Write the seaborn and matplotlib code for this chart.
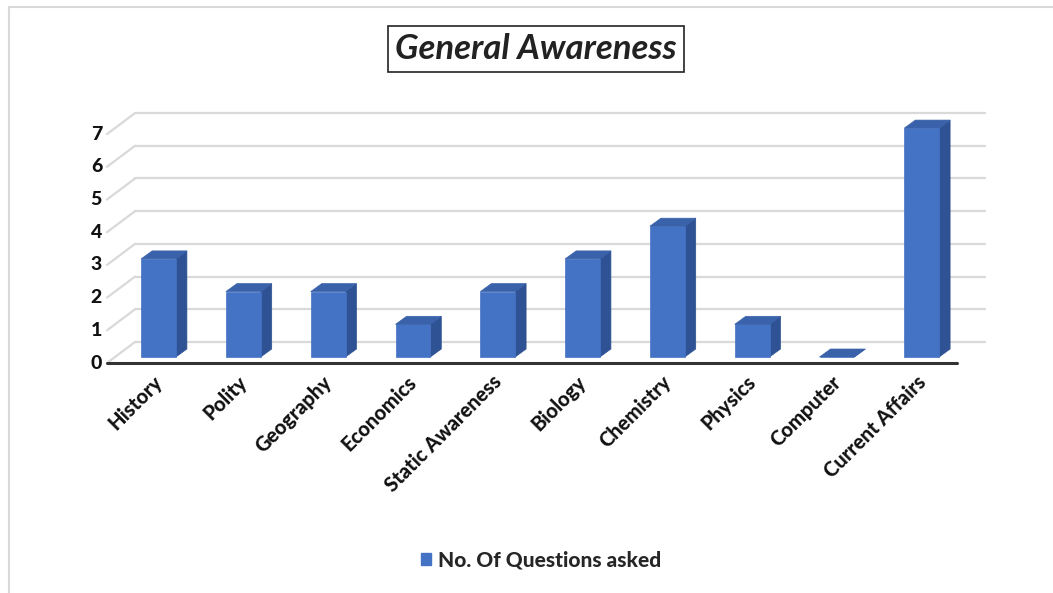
import matplotlib
matplotlib.use("Agg")
import matplotlib.pyplot as plt
import seaborn as sns
from matplotlib.patches import Polygon, Patch, Rectangle
from matplotlib.transforms import IdentityTransform

# data
subjects = ["History", "Polity", "Geography", "Economics", "Static Awareness",
            "Biology", "Chemistry", "Physics", "Computer", "Current Affairs"]
questions = [3, 2, 2, 1, 2, 3, 4, 1, 0, 7]
y_ticks = [0, 1, 2, 3, 4, 5, 6, 7]

FRONT_COL = "#4472C4"
SIDE_COL = "#2E5293"
TOP_COL = "#3A62AA"
GRID_COL = "#D9D9D9"
FONT = ["Lato", "DejaVu Sans"]

sns.set_theme(style="white")
plt.rcParams["font.family"] = FONT

fig = plt.figure(figsize=(10.53, 5.93), dpi=100)
ax = fig.add_axes([100 / 1053, 213 / 593, 900 / 1053, 280 / 593])

sns.barplot(x=subjects, y=questions, color=FRONT_COL, saturation=1,
            width=0.41, ax=ax, zorder=3, edgecolor=FRONT_COL, linewidth=0.5)
ax.set_xlim(-0.690, 9.923)
ax.set_ylim(-0.703, 7.859)
ax.set_axis_off()

IDT = IdentityTransform()
front_off = (-8, -6)
back_off = (20, 15)
depth = (11, 8)
xl, xr = -0.513, 9.51


def px(x, y, off=(0, 0)):
    X, Y = ax.transData.transform((x, y))
    return (X + off[0], Y + off[1])


# back wall gridlines and left wall diagonals
for k in y_ticks:
    a = px(xl, k, back_off)
    b = px(xr, k, back_off)
    ax.plot([a[0], b[0]], [a[1], b[1]], color=GRID_COL, lw=1.6,
            transform=IDT, clip_on=False, zorder=0.5)
    c = px(xl, k, front_off)
    ax.plot([c[0], a[0]], [c[1], a[1]], color=GRID_COL, lw=1.6,
            transform=IDT, clip_on=False, zorder=0.5)
    ax.text(c[0] - 5, c[1], str(k), ha="right", va="center", fontsize=14,
            fontweight="black", transform=IDT, color="#111111")

# front floor edge
a = px(xl, 0, front_off)
b = px(xr, 0, front_off)
ax.plot([a[0], b[0]], [a[1], b[1]], color="#333333", lw=2.2,
        transform=IDT, clip_on=False, zorder=4)

# 3d sides and tops for each bar
for p in ax.patches:
    x0 = p.get_x()
    w = p.get_width()
    h = p.get_height()
    side = [px(x0 + w, 0), px(x0 + w, h), px(x0 + w, h, depth), px(x0 + w, 0, depth)]
    top = [px(x0, h), px(x0 + w, h), px(x0 + w, h, depth), px(x0, h, depth)]
    ax.add_patch(Polygon(side, closed=True, facecolor=SIDE_COL, edgecolor=SIDE_COL,
                         lw=0.5, transform=IDT, clip_on=False, zorder=2.5))
    ax.add_patch(Polygon(top, closed=True, facecolor=TOP_COL, edgecolor=TOP_COL,
                         lw=0.5, transform=IDT, clip_on=False, zorder=3.5))

# category labels
for i, name in enumerate(subjects):
    X, Y = px(i, 0, front_off)
    ax.text(X + 2, Y - 9, name, rotation=45, ha="right", va="top",
            rotation_mode="anchor", fontsize=14.5, fontweight="black",
            transform=IDT, color="#111111")

# title
fig.text(536 / 1053, 1 - 49 / 593, "General Awareness", ha="center", va="center",
         fontsize=25, fontweight="bold", fontstyle="italic", color="#222222",
         bbox=dict(boxstyle="square,pad=0.2", facecolor="white", edgecolor="#222222", lw=1.2))

# legend
fig.legend(handles=[Patch(facecolor=FRONT_COL, edgecolor=FRONT_COL)],
           labels=["No. Of Questions asked"], loc="center",
           bbox_to_anchor=(541 / 1053, 1 - 560 / 593), frameon=False,
           handlelength=0.5, handleheight=0.5, handletextpad=0.35,
           prop={"family": FONT, "weight": "black", "size": 15})

# chart border
fig.add_artist(Rectangle((9 / 1053, -0.05), 1.2, 1 - 7 / 593 + 0.05, transform=fig.transFigure,
                         fill=False, edgecolor="#D9D9D9", lw=1.5))

fig.savefig("out.png", dpi=100)
